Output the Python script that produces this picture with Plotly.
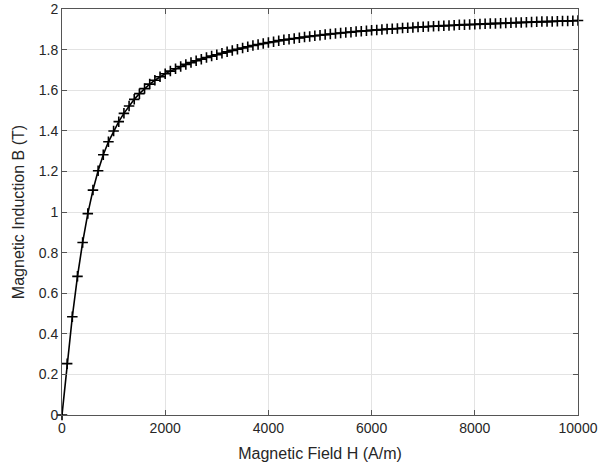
import plotly.graph_objects as go

H = list(range(0, 10001, 100))
B = [
    0.000, 0.253, 0.484, 0.683, 0.850, 0.992, 1.108, 1.203, 1.282, 1.346,
    1.399, 1.445, 1.486, 1.522, 1.555, 1.583, 1.608, 1.630, 1.649, 1.666,
    1.681, 1.694, 1.706, 1.717, 1.727, 1.736, 1.745, 1.753, 1.761, 1.768,
    1.775, 1.782, 1.789, 1.796, 1.802, 1.808, 1.814, 1.820, 1.825, 1.830,
    1.835, 1.839, 1.844, 1.848, 1.851, 1.855, 1.858, 1.862, 1.865, 1.868,
    1.871, 1.874, 1.877, 1.879, 1.882, 1.884, 1.886, 1.889, 1.891, 1.893,
    1.895, 1.897, 1.899, 1.901, 1.903, 1.904, 1.906, 1.908, 1.909, 1.911,
    1.912, 1.914, 1.915, 1.916, 1.918, 1.919, 1.920, 1.922, 1.923, 1.924,
    1.925, 1.926, 1.927, 1.928, 1.929, 1.930, 1.931, 1.932, 1.933, 1.934,
    1.935, 1.936, 1.937, 1.938, 1.938, 1.939, 1.940, 1.941, 1.941, 1.942,
    1.943,
]

x_ticks = [0, 2000, 4000, 6000, 8000, 10000]
x_labels = ["0", "2000", "4000", "6000", "8000", "10000"]
y_ticks = [0, 0.2, 0.4, 0.6, 0.8, 1.0, 1.2, 1.4, 1.6, 1.8, 2.0]
y_labels = ["0", "0.2", "0.4", "0.6", "0.8", "1", "1.2", "1.4", "1.6", "1.8", "2"]

fig = go.Figure()
fig.add_trace(go.Scatter(
    x=H, y=B, mode="lines+markers",
    line=dict(color="black", width=1.6),
    marker=dict(symbol="cross-thin-open", size=7.5, color="black",
                line=dict(color="black", width=1.6)),
    showlegend=False, cliponaxis=False,
))

axis_common = dict(
    showline=True, linecolor="#555555", linewidth=1, mirror="ticks",
    ticks="inside", ticklen=5, tickcolor="#555555",
    showgrid=True, gridcolor="#e3e3e3", gridwidth=1, zeroline=False,
    automargin=False,
    tickfont=dict(family="Liberation Sans, Arial, sans-serif", size=14, color="#262626"),
    title_font=dict(family="Liberation Sans, Arial, sans-serif", size=16, color="#262626"),
)

fig.update_xaxes(range=[0, 10000], tickvals=x_ticks, ticktext=x_labels,
                 title_text="Magnetic Field H (A/m)", title_standoff=13, **axis_common)
fig.update_yaxes(range=[0, 2], tickvals=y_ticks, ticktext=y_labels,
                 title_text="Magnetic Induction B (T)", title_standoff=10, **axis_common)

fig.update_layout(
    width=602, height=471,
    margin=dict(l=62, r=24, t=9, b=56),
    paper_bgcolor="white", plot_bgcolor="white",
)

fig.write_html("out.html", config={"displayModeBar": False},
               post_script="document.body.style.margin='0';document.body.style.overflow='hidden';")
